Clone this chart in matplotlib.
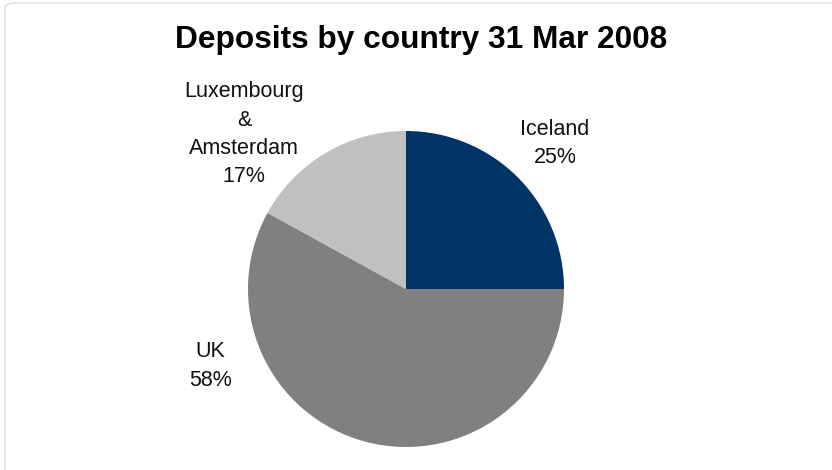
import matplotlib.pyplot as plt
from matplotlib.patches import FancyBboxPatch

plt.rcParams["font.family"] = ["Liberation Sans", "DejaVu Sans"]

countries = ["Iceland", "UK", "Luxembourg\n&\nAmsterdam"]
shares = [25, 58, 17]
colors = ["#003366", "#808080", "#C0C0C0"]
# label block centres in data units (pie radius = 1)
label_pos = [(0.943, 0.92), (-1.24, -0.487), (-1.025, 0.98)]

W, H = 832, 470
cx, cy, r = 406, 289, 158

fig = plt.figure(figsize=(W / 100, H / 100), dpi=100)
fig.patches.append(FancyBboxPatch((5 / W, -0.05), 1.1, 1.05 - 3 / H + 0.0,
                                  boxstyle="round,pad=0,rounding_size=0.012",
                                  transform=fig.transFigure, facecolor="none",
                                  edgecolor="#e4e4e4", linewidth=1.2))
ax = fig.add_axes([0, 0, 1, 1])
ax.pie(shares, colors=colors, startangle=90, counterclock=False,
       wedgeprops=dict(linewidth=0))
ax.set_xlim(-cx / r, (W - cx) / r)
ax.set_ylim(-(H - cy) / r, cy / r)
ax.axis("off")

for name, val, (x, y) in zip(countries, shares, label_pos):
    ax.text(x, y, f"{name}\n{val}%", ha="center", va="center",
            fontsize=15.5, linespacing=1.45, color="#111111")

fig.text(421 / W, 1 - 40 / H, "Deposits by country 31 Mar 2008", ha="center",
         va="center", fontsize=22.8, fontweight="bold")

fig.savefig("out.png", dpi=100)
